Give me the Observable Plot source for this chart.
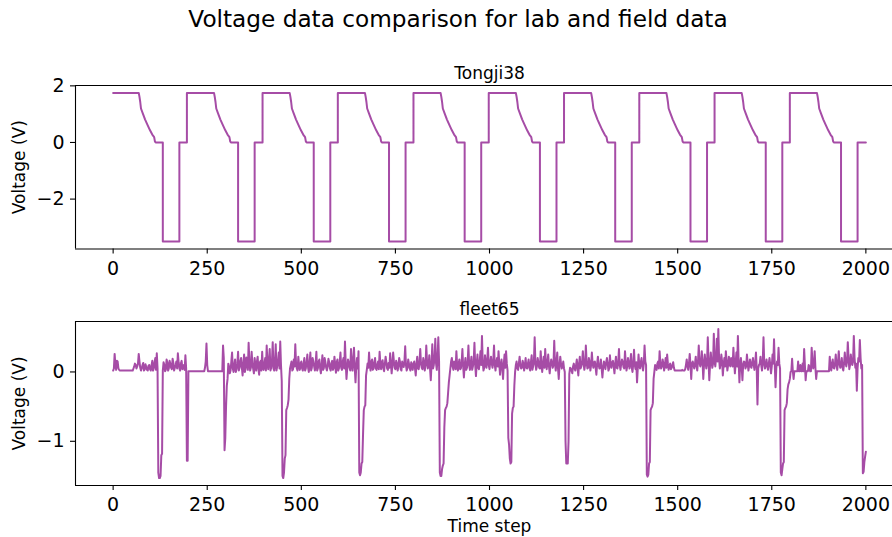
<!DOCTYPE html>
<html><head><meta charset="utf-8">
<script src="https://cdn.jsdelivr.net/npm/d3@7"></script>
<script src="https://cdn.jsdelivr.net/npm/@observablehq/plot@0.6"></script>
<style>
html,body{margin:0;padding:0;background:#fff;}
#chart{position:relative;width:892px;height:537px;overflow:hidden;font-family:"DejaVu Sans",sans-serif;background:#fff;}
#title{position:absolute;top:7px;left:458px;transform:translateX(-50%);white-space:nowrap;font-size:23.2px;line-height:23px;color:#000;}
.panel{position:absolute;left:0;}
.panel svg{max-width:none;}
</style></head><body>
<div id="chart">
  <div id="title">Voltage data comparison for lab and field data</div>
  <div id="p1" class="panel" style="top:40px"></div>
  <div id="p2" class="panel" style="top:290px"></div>
</div>
<script>
// ---- Tick labels ----
const xTicks = [0, 250, 500, 750, 1000, 1250, 1500, 1750, 2000];
const tongjiYTicks = [-2, 0, 2];
const fleetYTicks = [-1, 0];
const subplotTitles = ["Tongji38", "fleet65"];
const yLabel = "Voltage (V)";
const xLabel = "Time step";

// ---- Tongji38 (lab data): polyline vertices ----
const tongjiTime = [
  0, 68, 70, 72, 74, 79, 85, 91, 98, 104, 109, 111, 113, 132, 132, 176, 176,
  196, 196, 268, 270, 272, 274, 279, 285, 291, 298, 304, 309, 311, 313, 332, 332, 376, 376,
  397, 397, 469, 471, 473, 475, 480, 486, 492, 499, 505, 510, 512, 514, 533, 533, 577, 577,
  597, 597, 669, 671, 673, 675, 680, 686, 692, 699, 705, 710, 712, 714, 733, 733, 777, 777,
  798, 798, 870, 872, 874, 876, 881, 887, 893, 900, 906, 911, 913, 915, 934, 934, 978, 978,
  998, 998, 1070, 1072, 1074, 1076, 1081, 1087, 1093, 1100, 1106, 1111, 1113, 1115, 1134, 1134, 1178, 1178,
  1198, 1198, 1270, 1272, 1274, 1276, 1281, 1287, 1293, 1300, 1306, 1311, 1313, 1315, 1334, 1334, 1378, 1378,
  1398, 1398, 1470, 1472, 1474, 1476, 1481, 1487, 1493, 1500, 1506, 1511, 1513, 1515, 1534, 1534, 1578, 1578,
  1598, 1598, 1670, 1672, 1674, 1676, 1681, 1687, 1693, 1700, 1706, 1711, 1713, 1715, 1734, 1734, 1778, 1778,
  1798, 1798, 1870, 1872, 1874, 1876, 1881, 1887, 1893, 1900, 1906, 1911, 1913, 1915, 1934, 1934, 1978, 1978, 2000
];
const tongjiVolt = [
  1.75, 1.75, 1.61, 1.43, 1.2, 1.02, 0.81, 0.63, 0.43, 0.28, 0.19, 0.04, 0, 0, -3.5, -3.5, 0,
  0, 1.75, 1.75, 1.61, 1.43, 1.2, 1.02, 0.81, 0.63, 0.43, 0.28, 0.19, 0.04, 0, 0, -3.5, -3.5, 0,
  0, 1.75, 1.75, 1.61, 1.43, 1.2, 1.02, 0.81, 0.63, 0.43, 0.28, 0.19, 0.04, 0, 0, -3.5, -3.5, 0,
  0, 1.75, 1.75, 1.61, 1.43, 1.2, 1.02, 0.81, 0.63, 0.43, 0.28, 0.19, 0.04, 0, 0, -3.5, -3.5, 0,
  0, 1.75, 1.75, 1.61, 1.43, 1.2, 1.02, 0.81, 0.63, 0.43, 0.28, 0.19, 0.04, 0, 0, -3.5, -3.5, 0,
  0, 1.75, 1.75, 1.61, 1.43, 1.2, 1.02, 0.81, 0.63, 0.43, 0.28, 0.19, 0.04, 0, 0, -3.5, -3.5, 0,
  0, 1.75, 1.75, 1.61, 1.43, 1.2, 1.02, 0.81, 0.63, 0.43, 0.28, 0.19, 0.04, 0, 0, -3.5, -3.5, 0,
  0, 1.75, 1.75, 1.61, 1.43, 1.2, 1.02, 0.81, 0.63, 0.43, 0.28, 0.19, 0.04, 0, 0, -3.5, -3.5, 0,
  0, 1.75, 1.75, 1.61, 1.43, 1.2, 1.02, 0.81, 0.63, 0.43, 0.28, 0.19, 0.04, 0, 0, -3.5, -3.5, 0,
  0, 1.75, 1.75, 1.61, 1.43, 1.2, 1.02, 0.81, 0.63, 0.43, 0.28, 0.19, 0.04, 0, 0, -3.5, -3.5, 0, 0
];

// ---- fleet65 (field data) ----
// voltage read at t = 0, 4, 8, ..., 2000
const fleetVoltEven = [
  0.02,0.26,0.03,0.15,0.03,0.02,0.02,0.02,0.02,0.02,0.02,0.02,0.02,0.02,0.08,0.10,0.08,0.26,0.06,0.05,0.13,0.04,0.07,0.02,0.10,
  0.02,0.16,0.05,0.20,0.27,-1.45,-1.53,-1.20,0.02,0.10,0.03,0.14,0.05,0.12,0.04,0.13,0.06,0.15,0.27,0.05,0.12,0.04,0.10,0.24,-1.28,
  0.01,0.01,0.01,0.01,0.01,0.01,0.01,0.01,0.01,0.01,0.01,0.06,0.41,0.01,0.01,0.01,0.01,0.01,0.01,0.01,0.01,0.01,0.01,0.38,-1.13,
  -0.50,-0.10,0.08,0.02,0.28,0.00,0.18,0.04,0.29,0.06,0.20,-0.05,0.25,0.05,0.18,0.42,0.02,0.29,0.05,0.20,0.02,0.22,-0.04,0.16,0.29,
  0.03,0.20,0.38,0.04,0.33,0.06,0.43,0.02,0.40,0.08,0.28,0.44,-0.13,-1.53,-1.25,-0.55,-0.48,-0.10,0.10,0.02,0.18,0.40,0.05,0.22,0.03,
  0.15,0.02,0.20,0.05,0.25,0.00,0.28,0.06,0.15,0.02,0.29,0.05,0.18,-0.02,0.24,0.06,0.14,0.02,0.19,0.05,0.12,0.03,0.22,-0.01,0.18,
  0.05,0.28,0.03,0.20,0.44,-0.10,0.18,0.06,0.33,0.02,0.35,-0.15,0.20,0.30,-1.49,-1.32,-0.90,-0.50,-0.05,0.12,0.28,0.02,0.18,0.05,0.20,
  0.03,0.15,0.29,0.04,0.17,0.01,0.22,0.05,0.13,0.27,-0.02,0.28,0.06,0.16,0.02,0.20,0.04,0.15,0.07,0.37,0.02,0.18,0.05,0.14,0.03,
  0.15,-0.05,0.22,0.04,0.33,0.06,0.20,0.02,0.38,0.05,0.24,-0.12,0.40,0.10,0.48,0.03,0.50,-1.45,-1.50,-1.35,-0.80,-0.52,-0.45,-0.15,0.05,
  0.20,0.03,0.12,0.30,0.02,0.18,0.05,0.33,-0.08,0.20,0.06,0.38,0.03,0.22,0.08,0.42,-0.06,0.25,0.04,0.30,0.52,0.02,0.24,0.06,0.35,
  0.04,0.22,0.06,0.38,0.02,0.20,0.30,-0.04,0.18,-0.10,0.25,0.30,0.02,-1.05,-1.32,-0.60,-0.50,0.00,0.15,0.03,0.22,0.05,0.16,0.02,0.20,
  0.05,0.18,0.02,0.24,0.08,0.50,0.03,0.20,0.06,0.30,0.00,0.22,0.33,0.04,0.25,-0.02,0.18,0.06,0.45,0.02,0.28,-0.10,0.22,0.05,0.15,
  0.00,-1.32,-1.32,-0.03,0.05,-0.02,0.12,0.02,0.18,-0.05,0.22,0.08,0.30,0.03,0.38,0.05,0.20,0.02,0.28,0.06,0.15,-0.04,0.22,0.05,0.18,
  -0.08,0.15,0.04,0.20,0.02,0.24,0.06,0.16,-0.02,0.22,0.05,0.33,0.03,0.18,0.07,0.30,0.02,0.20,0.05,0.26,0.00,0.32,0.04,-0.15,0.25,
  0.05,0.20,0.02,0.38,0.10,-1.51,-1.32,-0.55,-0.50,-0.10,0.10,0.03,0.15,0.30,0.05,0.18,0.02,0.20,0.25,0.03,0.12,0.06,0.14,0.02,0.02,
  0.02,0.02,0.02,0.03,0.02,0.04,0.18,0.03,0.26,-0.10,0.15,0.05,0.22,0.02,0.38,0.08,0.30,-0.10,0.25,0.05,0.50,-0.12,0.28,0.06,0.55,
  0.08,0.48,0.62,0.05,0.25,-0.05,0.20,0.30,0.02,0.22,0.08,0.18,0.35,-0.02,0.28,0.52,-0.15,0.20,-0.12,0.15,0.05,0.25,0.02,0.18,0.06,
  0.20,0.03,0.28,-0.47,0.10,0.22,0.02,0.50,0.05,0.18,0.03,0.20,-0.02,0.25,0.47,-0.22,0.15,0.35,0.05,-1.49,-1.32,-0.55,-0.50,-0.25,-0.15,
  0.00,0.19,-0.10,0.01,0.01,0.15,0.01,0.01,0.12,0.33,-0.12,0.01,0.10,0.01,0.35,0.05,0.30,-0.10,0.01,0.01,0.01,0.01,0.01,0.01,0.01,
  0.01,0.22,0.02,0.18,0.05,0.25,0.03,0.30,0.06,0.20,0.02,0.28,0.08,0.43,0.04,0.25,0.10,0.52,0.06,-0.27,0.20,0.46,0.05,-1.46,-1.30,
  -1.15
];
// voltage read at t = 2, 6, 10, ..., 1998
const fleetVoltOdd = [
  0.05,0.10,0.16,0.05,0.02,0.02,0.02,0.02,0.02,0.02,0.02,0.02,0.02,0.05,0.12,0.05,0.12,0.15,0.02,0.10,0.02,0.11,0.03,0.09,0.04,
  0.09,0.02,0.14,0.03,0.05,-1.53,-1.50,-1.18,0.14,0.01,0.18,0.02,0.16,0.06,0.19,0.02,0.10,0.05,0.14,0.02,0.16,0.06,0.03,0.05,-1.28,
  0.01,0.01,0.01,0.01,0.01,0.01,0.01,0.01,0.01,0.01,0.01,0.15,0.10,0.01,0.01,0.01,0.01,0.01,0.01,0.01,0.01,0.01,0.01,0.20,-0.95,
  -0.20,0.12,-0.02,0.15,0.05,0.10,0.00,0.12,0.02,0.15,0.06,0.12,0.00,0.21,0.03,0.15,0.06,0.12,-0.02,0.10,0.15,0.04,0.14,0.02,0.06,
  0.12,0.02,0.12,0.18,0.02,0.15,0.05,0.14,0.02,0.15,0.05,0.10,-1.50,-1.45,-1.20,-0.52,-0.40,0.05,0.15,0.04,0.08,0.12,0.02,0.10,0.12,
  0.05,0.12,0.02,0.14,0.06,0.13,0.02,0.20,0.08,0.12,0.02,0.15,0.05,0.10,0.03,0.20,0.06,0.08,0.14,0.02,0.16,0.06,0.10,0.14,0.02,
  0.14,0.06,0.15,0.05,0.12,0.05,0.14,0.02,0.12,0.18,0.05,0.08,0.05,-1.45,-1.45,-1.30,-0.55,-0.48,0.03,0.06,0.10,0.15,0.03,0.14,0.05,
  0.10,0.04,0.12,0.14,0.05,0.12,0.14,0.03,0.06,0.12,0.10,0.15,0.04,0.12,0.08,0.15,0.02,0.12,0.15,0.10,0.06,0.12,0.02,0.08,0.12,
  0.05,0.12,0.05,0.15,0.12,0.04,0.14,0.10,0.15,0.08,0.05,0.12,0.05,0.20,0.12,0.20,0.15,-1.50,-1.40,-1.32,-0.55,-0.50,-0.30,-0.05,0.15,
  0.08,0.15,0.04,0.10,0.12,0.04,0.14,0.08,0.10,0.03,0.15,0.10,0.12,0.03,0.15,0.10,0.12,0.06,0.15,0.10,0.14,0.06,0.12,0.18,0.10,
  0.14,0.12,0.15,0.10,0.14,0.08,0.12,0.10,0.05,0.12,0.06,0.12,-0.95,-1.25,-1.30,-0.52,-0.20,0.10,0.05,0.12,0.10,0.06,0.12,0.10,0.06,
  0.12,0.06,0.14,0.03,0.15,0.12,0.08,0.14,0.05,0.12,0.10,0.06,0.12,0.14,0.08,0.10,0.13,0.10,0.12,0.14,0.05,0.10,0.12,0.08,0.05,
  -1.00,-1.32,-1.00,0.06,0.02,0.08,0.05,0.10,0.06,0.12,0.05,0.14,0.12,0.10,0.15,0.06,0.14,0.10,0.12,0.14,0.06,0.12,0.10,0.06,0.05,
  0.06,0.10,0.14,0.12,0.05,0.10,0.14,0.08,0.12,0.06,0.14,0.10,0.12,0.15,0.05,0.14,0.08,0.12,0.14,0.06,0.12,0.10,0.14,0.05,0.10,
  0.14,0.08,0.12,0.15,-1.48,-1.48,-1.30,-0.52,-0.45,0.00,0.06,0.12,0.05,0.12,0.08,0.12,0.10,0.06,0.12,0.10,0.04,0.10,0.06,0.02,0.02,
  0.02,0.02,0.02,0.02,0.02,0.10,0.08,0.12,0.10,0.12,0.10,0.12,0.08,0.15,0.14,0.12,0.15,0.10,0.14,0.12,0.15,0.10,0.14,0.12,0.15,
  0.20,0.15,0.20,0.12,0.15,0.10,0.08,0.15,0.10,0.12,0.20,0.08,0.15,0.12,0.08,0.15,0.10,0.08,0.10,0.14,0.08,0.12,0.10,0.08,0.14,
  0.10,0.14,0.05,0.05,0.12,0.10,0.14,0.12,0.10,0.08,0.12,0.10,0.08,0.12,0.10,0.05,0.10,0.12,-1.45,-1.40,-1.30,-0.52,-0.45,-0.18,-0.10,
  0.01,0.01,0.01,0.01,0.01,0.01,0.10,0.01,0.01,0.10,0.01,0.01,0.08,0.01,0.15,0.10,0.05,0.01,0.01,0.01,0.01,0.01,0.01,0.01,0.01,
  0.01,0.08,0.12,0.06,0.12,0.10,0.14,0.12,0.10,0.06,0.12,0.14,0.15,0.20,0.10,0.14,0.15,0.20,0.12,0.05,0.15,0.20,0.10,-1.44,-1.22
];

// ---- build tables ----
const tongjiData = tongjiTime.map((t, i) => ({t, v: tongjiVolt[i]}));
const fleetData = [];
fleetVoltEven.forEach((v, i) => {
  fleetData.push({t: i * 4, v});
  if (i < fleetVoltOdd.length) fleetData.push({t: i * 4 + 2, v: fleetVoltOdd[i]});
});

const fmt = d => (d < 0 ? "\u2212" + Math.abs(d) : String(d));
const FONT = '"DejaVu Sans", sans-serif';

function panel(data, title, yTicks, height, marginTop, marginBottom, withXLabel) {
  const lo = d3.min(data, d => d.v), hi = d3.max(data, d => d.v);
  const pad = (hi - lo) * 0.05;
  const yDom = [lo - pad, hi + pad];
  const marks = [
    Plot.line(data, {x: "t", y: "v", stroke: "purple", strokeOpacity: 0.7, strokeWidth: 2}),
    Plot.ruleY(yDom, {stroke: "black", strokeWidth: 1.1}),
    Plot.ruleX([-100], {stroke: "black", strokeWidth: 1.1}),
    Plot.axisX({ticks: xTicks, tickFormat: fmt, tickSize: 5, tickPadding: 7, fontSize: 19, label: null, strokeWidth: 1.1}),
    Plot.axisY({ticks: yTicks, tickFormat: fmt, tickSize: 5, tickPadding: 6, fontSize: 19, label: null, strokeWidth: 1.1}),
    Plot.text([title], {x: () => 1000, text: d => d, frameAnchor: "top", lineAnchor: "bottom", dy: -7, fontSize: 17}),
    Plot.text([yLabel], {text: d => d, frameAnchor: "left", textAnchor: "middle", dx: -56, rotate: -90, fontSize: 17})
  ];
  if (withXLabel) {
    marks.push(Plot.text([xLabel], {x: () => 1000, text: d => d, frameAnchor: "bottom", lineAnchor: "bottom", dy: 46, fontSize: 17}));
  }
  return Plot.plot({
    width: 892, height, marginLeft: 75, marginRight: 0, marginTop, marginBottom,
    style: {fontFamily: FONT, color: "black", background: "white"},
    x: {domain: [-100, 2100], range: [75, 903]},
    y: {domain: yDom},
    marks
  });
}

document.getElementById("p1").append(panel(tongjiData, subplotTitles[0], tongjiYTicks, 250, 45, 41.5, false));
document.getElementById("p2").append(panel(fleetData, subplotTitles[1], fleetYTicks, 247, 31, 52, true));
</script>
</body></html>
